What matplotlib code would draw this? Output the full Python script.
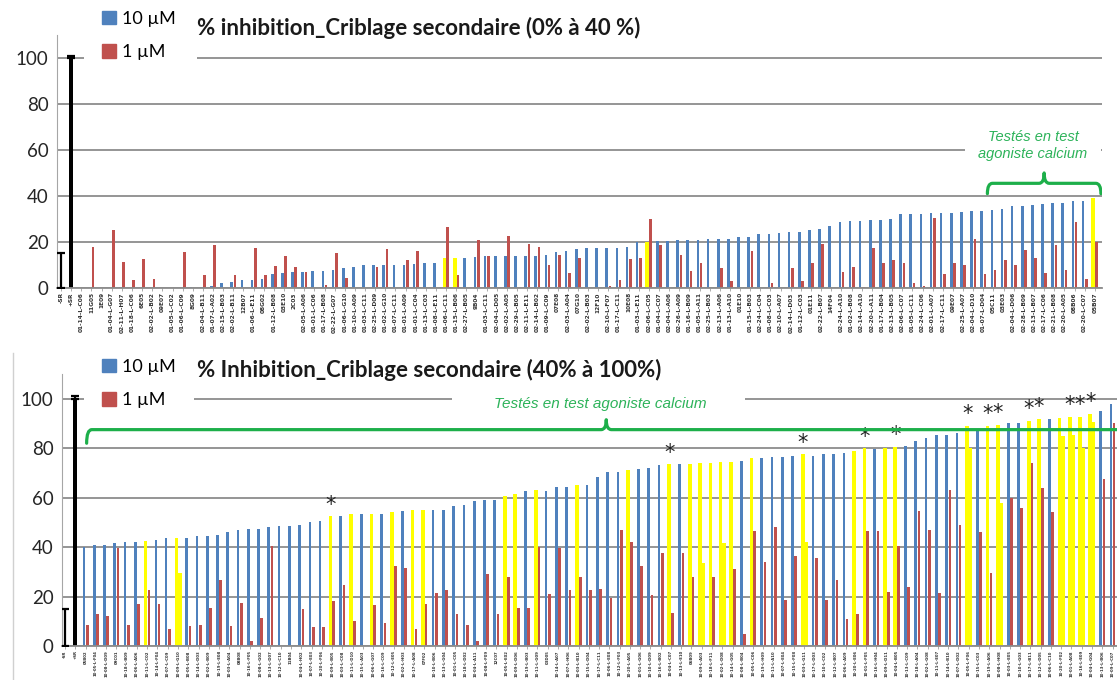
import numpy as np
import matplotlib
matplotlib.use("Agg")
import matplotlib.pyplot as plt
from matplotlib.path import Path
from matplotlib.patches import PathPatch, Patch, Rectangle
from matplotlib.lines import Line2D

plt.rcParams['font.family'] = ['Lato', 'DejaVu Sans']

BLUE = '#4F81BD'
RED = '#C0504D'
YELLOW = '#FFFF00'
GREEN = '#1DAF4A'
TXT_GREEN = '#2DB35A'
GRID = '#8C8C8C'

# controls (negative / positive reference)
ctrl_labels = ['-SR', '+SR']
ctrl_values = [0, 100]
ctrl_err = [15, 1]

# ---- criblage secondaire, 0% a 40% ----
top_labels = [
    "01-14-L-C06", "11G05", "1E09", "01-04-L-G07", "02-11-L-H07", "01-18-L-C06", "6E05", "02-02-L-B02", "09E07", "01-05-L-C02",
    "01-06-L-C09", "8G09", "02-04-L-B11", "01-07-L-A02", "02-15-L-B03", "02-02-L-B11", "12B07", "01-06-L-E11", "08G02", "01-12-L-B08",
    "03E10", "2C03", "02-05-L-A06", "01-01-L-C06", "01-17-L-B08", "02-22-L-G07", "01-06-L-G10", "01-10-L-A09", "01-03-L-C11", "02-25-L-D09",
    "01-02-L-G10", "01-07-L-C11", "01-01-L-A09", "01-01-L-C04", "01-13-L-C03", "01-08-L-E11", "01-06-L-C11", "01-15-L-B06", "02-27-L-B05", "9B04",
    "01-03-L-C11", "02-04-L-D05", "02-02-L-A05", "02-29-L-B05", "02-11-L-E11", "02-14-L-B02", "01-09-L-C09", "07E08", "02-03-L-A04", "07G10",
    "02-02-L-B03", "12F10", "02-10-L-F07", "01-17-L-C11", "10E08", "01-03-L-E11", "02-06-L-C05", "01-04-L-C07", "02-04-L-A06", "02-26-L-A09",
    "01-16-L-B09", "01-05-L-A11", "02-25-L-B03", "02-13-L-A06", "01-13-L-A10", "01E10", "01-15-L-B03", "02-24-L-C04", "01-08-L-C03", "02-10-L-A07",
    "02-14-L-D03", "01-12-L-C03", "01E11", "02-22-L-B07", "14F04", "02-24-L-A10", "01-02-L-B08", "02-14-L-A10", "02-20-L-A11", "01-17-L-B04",
    "02-13-L-B05", "02-06-L-C07", "01-05-L-C11", "02-24-L-C06", "02-01-L-A07", "02-17-L-C11", "09E07", "02-25-L-A07", "02-04-L-D10", "01-07-L-D04",
    "05C11", "03E03", "02-04-L-D06", "02-28-L-B09", "02-13-L-B07", "02-17-L-C06", "02-21-L-B08", "02-20-L-A05", "08B06", "02-20-L-C07",
    "05B07",
]
top_10uM = [
    0, 0, 0, 0, 0.3, 0, 0, 0, 0, 0,
    0, 0.5, 0.3, 1, 2, 2.5, 3.5, 3.5, 4, 6,
    6.5, 7, 7, 7.5, 7.5, 8, 8.5, 9, 10, 10,
    10, 10, 10, 10.5, 11, 11, 13, 13, 13, 13.5,
    14, 14, 14, 14, 14, 14, 14.5, 15.5, 16, 17,
    17.5, 17.5, 17.5, 17.5, 18, 20, 20, 20.5, 20.5, 21,
    21, 21, 21.5, 21.5, 21.5, 22, 22, 23.5, 23.5, 24,
    24.5, 24.5, 25, 25.5, 27, 28.5, 29, 29, 29.5, 29.5,
    30, 32, 32, 32, 32.5, 32.5, 32.5, 33, 33.5, 33.5,
    34, 34.5, 35.5, 35.5, 36, 36.5, 37, 37, 38, 38,
    39,
]
top_1uM = [
    0, 18, 0, 25, 11.5, 3.5, 12.5, 4, 0, 0,
    15.5, 0, 5.5, 18.5, 0, 5.5, 0, 17.5, 5.5, 9.5,
    14, 9, 7, 0, 1.5, 15, 4.5, 0, 0, 9,
    17, 0, 12, 16, 0, 0, 26.5, 5.5, 0, 21,
    14, 0, 22.5, 0, 19, 18, 10, 14.5, 6.5, 13,
    0, 0, 1, 3.5, 12.5, 13, 30, 18.5, 0, 14.5,
    7.5, 11, 0, 8.5, 3, 0, 16, 0, 2, 0,
    8.5, 3, 11, 19, 0, 7, 9, 0.5, 17.5, 11,
    12, 11, 2, 1, 30.5, 6, 11, 10, 21.5, 6,
    8, 12, 10, 16.5, 13, 6.5, 18.5, 8, 28.5, 4,
    20,
]
top_yellow_10 = [37, 38, 57, 101]
top_yellow_1 = []
top_stars = []

# ---- criblage secondaire, 40% a 100% ----
bot_labels = [
    "05B02", "10-05-L-F04", "10-08-L-D09", "09C01", "10-18-L-B09", "10-06-L-A06", "10-11-L-C02", "10-14-L-F04", "10-07-L-C09", "10-09-L-G10",
    "10-05-L-B08", "10-14-L-D03", "10-02-L-B09", "10-19-L-E08", "10-03-L-A04", "08B08", "10-16-L-F05", "10-08-L-G02", "10-13-L-D07", "10-12-L-C10",
    "11B04", "10-04-L-H02", "10-07-L-E03", "10-20-L-F06", "10-09-L-B05", "10-03-L-C08", "10-11-L-D10", "10-15-L-A03", "10-06-L-G07", "10-16-L-C09",
    "10-12-L-E05", "10-02-L-H03", "10-17-L-A08", "07F02", "10-10-L-B06", "10-13-L-G04", "10-01-L-C05", "10-18-L-D02", "10-04-L-A11", "10-08-L-F09",
    "12C07", "10-05-L-E02", "10-09-L-D06", "10-19-L-B03", "10-11-L-G09", "03D05", "10-14-L-A07", "10-07-L-H06", "10-03-L-B10", "10-15-L-D04",
    "10-17-L-C11", "10-06-L-E08", "10-12-L-F03", "10-20-L-A05", "10-01-L-G06", "10-10-L-D09", "10-16-L-B02", "10-04-L-C07", "10-13-L-E10", "06B09",
    "10-09-L-A03", "10-18-L-F11", "10-02-L-D08", "10-14-L-G05", "10-08-L-B04", "10-05-L-C06", "10-19-L-H09", "10-11-L-A10", "10-07-L-E04", "10-15-L-F08",
    "10-03-L-G11", "10-17-L-D03", "10-10-L-C02", "10-12-L-B07", "10-06-L-A09", "10-20-L-E06", "10-01-L-F05", "10-16-L-H04", "10-09-L-D11", "10-04-L-B05",
    "10-13-L-C09", "10-18-L-A04", "10-02-L-G08", "10-11-L-E07", "10-14-L-B10", "10-07-L-D02", "10-05-L-F06", "10-15-L-C03", "10-19-L-A06", "10-08-L-H08",
    "10-03-L-E05", "10-10-L-G03", "10-17-L-B11", "10-12-L-D05", "10-06-L-C10", "10-20-L-F02", "10-01-L-A08", "10-16-L-E09", "10-04-L-G04", "10-13-L-B06",
    "10-09-L-C07",
]
bot_10uM = [
    40, 41, 41, 41.5, 42, 42, 42.5, 43, 43.5, 43.5,
    43.5, 44.5, 44.5, 45, 46, 47, 47.5, 47.5, 48, 48.5,
    48.5, 49, 50, 50.5, 52.5, 52.5, 53.5, 53.5, 53.5, 53.5,
    54, 54.5, 55, 55, 55, 55, 56.5, 57, 58.5, 59,
    59, 60.5, 61.5, 62.5, 63, 62.5, 64.5, 64.5, 65, 65,
    68.5, 70.5, 70.5, 71, 71.5, 72, 73, 73.5, 73.5, 73.5,
    74, 74, 74.5, 74.5, 75, 76, 76, 76.5, 76.5, 77,
    77.5, 77, 77.5, 77.5, 78, 79, 80, 79.5, 80, 80.5,
    81, 83, 84, 85.5, 85.5, 86, 89, 87, 89, 89.5,
    90.3, 90.3, 91, 92, 92, 92.3, 92.8, 92.8, 94, 95,
    98,
]
bot_1uM = [
    8.5, 13, 12, 39.5, 8.5, 17, 22.5, 17, 7, 29.5,
    8, 8.5, 15.5, 26.5, 8, 17.5, 2, 11.5, 40.5, 0,
    0, 15, 7.5, 7.5, 18, 24.5, 10, 0, 16.5, 9.5,
    32.5, 31.5, 7, 17, 21.5, 22.5, 13, 8.5, 2, 29,
    13, 28, 15.5, 15.5, 40, 21, 39.5, 22.5, 28, 22.5,
    23, 19.5, 47, 42, 32.5, 20.5, 37.5, 13.5, 37.5, 28,
    33.5, 28, 41.5, 31, 5, 46.5, 34, 48, 18.5, 36.5,
    42, 35.5, 18.5, 26.5, 11, 13, 46.5, 46.5, 22, 40.5,
    24, 54.5, 47, 21.5, 63, 49, 80, 46, 29.5, 58,
    60, 56, 74, 64, 54, 85, 85.5, 80, 90.7, 67.5,
    90,
]
bot_yellow_10 = [7, 10, 25, 27, 29, 31, 33, 34, 42, 43, 45, 49, 54, 58, 60, 61, 62, 63, 64, 66,
                 71, 76, 77, 79, 80, 87, 89, 90, 93, 94, 96, 97, 98, 99]
bot_yellow_1 = [10, 61, 63, 71, 87, 90, 96, 97, 98, 99]
bot_stars = [25, 58, 71, 77, 80, 87, 89, 90, 93, 94, 97, 98, 99]


def brace(ax, x0, x1, xc, y_end, y_line, y_tip, rx):
    verts = [(x0, y_end), (x0, y_line), (x0 + rx, y_line),
             (xc - rx, y_line), (xc, y_line), (xc, y_tip),
             (xc, y_line), (xc + rx, y_line),
             (x1 - rx, y_line), (x1, y_line), (x1, y_end)]
    codes = [Path.MOVETO, Path.CURVE3, Path.CURVE3,
             Path.LINETO, Path.CURVE3, Path.CURVE3,
             Path.CURVE3, Path.CURVE3,
             Path.LINETO, Path.CURVE3, Path.CURVE3]
    ax.add_patch(PathPatch(Path(verts, codes), facecolor='none', edgecolor=GREEN,
                           lw=2.3, capstyle='round', joinstyle='round', zorder=6))


def draw_panel(ax, labels, v10, v1, hi10, hi1, stars, xlim, label_size):
    n = len(v10)
    x = np.arange(n) + len(ctrl_labels)
    num = np.arange(1, n + 1)
    c10 = [YELLOW if k in hi10 else BLUE for k in num]
    w10 = [0.36 if k in hi10 else 0.26 for k in num]
    c1 = [YELLOW if k in hi1 else RED for k in num]
    w1 = [0.36 if k in hi1 else 0.26 for k in num]
    ax.bar(x - 0.16, v10, width=w10, color=c10, zorder=2)
    ax.bar(x + 0.16, v1, width=w1, color=c1, zorder=2)

    # controls
    ax.bar(1, ctrl_values[1], width=0.38, color='black', zorder=2)
    ax.errorbar([0, 1], ctrl_values, yerr=[[0, 0], ctrl_err], fmt='none',
                ecolor='black', elinewidth=1.6, capsize=3, capthick=1.6, zorder=3)

    for k in stars:
        ax.text(x[k - 1] - 0.16, v10[k - 1] + 0.6, '*', ha='center', va='bottom',
                fontsize=15, color='#222222', family='DejaVu Sans', zorder=5)

    ax.set_xlim(*xlim)
    ax.set_ylim(0, 110)
    ax.set_yticks(range(0, 101, 20))
    ax.yaxis.grid(True, color=GRID, lw=1.3)
    ax.set_axisbelow(True)
    ax.set_xticks(np.arange(n + len(ctrl_labels)))
    ax.set_xticklabels(ctrl_labels + labels, rotation=90, fontsize=label_size,
                       color='#333333', family='DejaVu Sans', weight='bold')
    ax.tick_params(axis='x', length=2, width=0.6, color='#A0A0A0', pad=1)
    ax.tick_params(axis='y', length=0, pad=6, labelsize=13.5, labelcolor='#262626')
    for s in ('top', 'right'):
        ax.spines[s].set_visible(False)
    ax.spines['left'].set_color('#A6A6A6')
    ax.spines['bottom'].set_color(GRID)
    ax.spines['bottom'].set_linewidth(1.3)


def add_legend(ax, ytop, cover):
    handles = [Patch(color=BLUE, label='10 µM'), Patch(color=RED, label='1 µM')]
    leg = ax.legend(handles=handles, loc='upper left', bbox_to_anchor=(84 / 1117, ytop),
                    bbox_transform=fig.transFigure,
                    frameon=True, facecolor='white', edgecolor='none', framealpha=1,
                    fontsize=13, handlelength=0.75, handleheight=0.75, handletextpad=0.35,
                    labelspacing=0.95, borderpad=1.0, borderaxespad=0)
    leg.get_frame().set_boxstyle('square', pad=0)
    leg.set_zorder(4)
    # white band behind the legend, hiding the 100 gridline up to the title start
    x0, y0, x1, y1 = cover
    ax.add_patch(Rectangle((x0 / 1117, 1 - y1 / 680), (x1 - x0) / 1117, (y1 - y0) / 680,
                           transform=fig.transFigure, facecolor='white', edgecolor='none',
                           clip_on=False, zorder=3))


fig = plt.figure(figsize=(11.17, 6.80), dpi=100)

ax1 = fig.add_axes([0.0510, 0.5765, 0.9355, 0.3721])
draw_panel(ax1, top_labels, top_10uM, top_1uM, top_yellow_10, top_yellow_1, top_stars,
           (-0.4, 102.7), 4.2)
ax1.text(95.9, 62, 'Testés en test\nagoniste calcium', ha='center', va='center',
         fontsize=10.5, style='italic', color=TXT_GREEN, family='Liberation Sans',
         linespacing=1.25, zorder=5,
         bbox=dict(facecolor='white', edgecolor='none', pad=10))
brace(ax1, 91.4, 102.6, 97.0, 41, 45.5, 50, 0.5)
add_legend(ax1, 1 + 7 / 680, (84, 52, 197, 64))

ax2 = fig.add_axes([0.0555, 0.05, 0.946, 0.40])
draw_panel(ax2, bot_labels, bot_10uM, bot_1uM, bot_yellow_10, bot_yellow_1, bot_stars,
           (-0.3, 102.6), 2.8)
ax2.add_patch(Rectangle((37.7, 96.0), 28.5, 5.5, facecolor='white', edgecolor='none', zorder=1))
ax2.text(52.1, 98, 'Testés en test agoniste calcium', ha='center', va='center',
         fontsize=11, style='italic', color=TXT_GREEN, family='Liberation Sans', zorder=5)
brace(ax2, 2.1, 120, 52.7, 82, 87.5, 91.5, 0.5)
add_legend(ax2, 1 - 341 / 680, (86, 393, 193, 405))

# panel titles
fig.text(0.176, 1 - 28 / 680, '% inhibition_Criblage secondaire (0% à 40 %)',
         fontsize=16, weight='bold', color='#1a1a1a', va='center', ha='left')
fig.text(0.176, 1 - 370 / 680, '% Inhibition_Criblage secondaire (40% à 100%)',
         fontsize=16, weight='bold', color='#1a1a1a', va='center', ha='left')

fig.add_artist(Line2D([13 / 1117, 13 / 1117], [0, 327 / 680], color='#D0D0D0', lw=1))

fig.savefig('out.png', dpi=100)
